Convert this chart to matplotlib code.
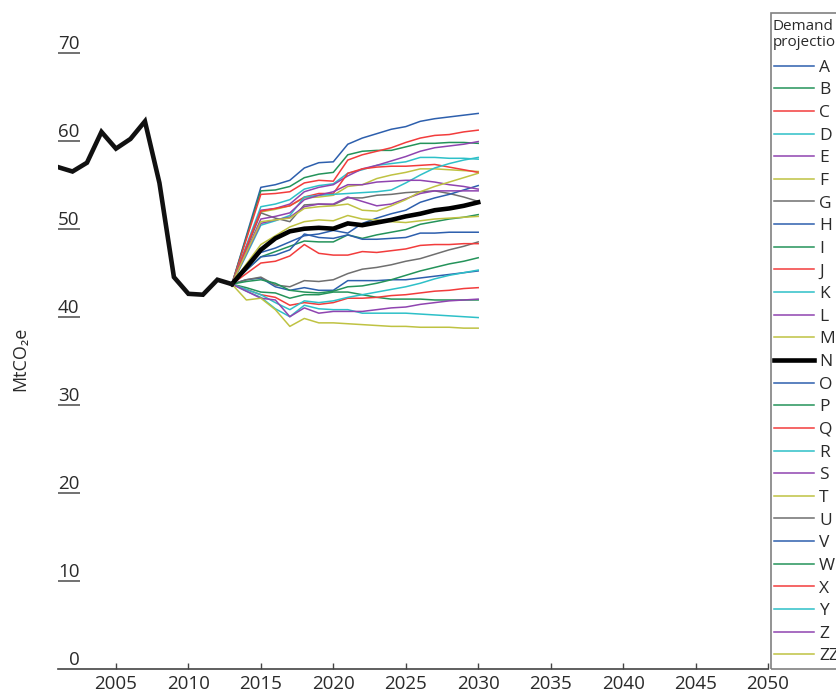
import matplotlib
matplotlib.use("Agg")
import matplotlib.pyplot as plt
import matplotlib.transforms as mtransforms
from matplotlib.patches import Rectangle

plt.rcParams["font.family"] = ["Open Sans", "DejaVu Sans"]

# Historical emissions (MtCO2e)
hist_years = list(range(2001, 2014))
hist_values = [57.0, 56.5, 57.5, 61.0, 59.1, 60.2, 62.2, 55.2, 44.5, 42.6, 42.5, 44.2, 43.7]

# Demand projections, 2013-2030
proj_years = list(range(2013, 2031))
A = [43.7, 49.2, 54.7, 55.0, 55.5, 56.9, 57.5, 57.6, 59.6, 60.3, 60.8, 61.3, 61.6, 62.2, 62.5, 62.7, 62.9, 63.1]
B = [43.7, 49.0, 54.3, 54.4, 54.8, 55.8, 56.2, 56.4, 58.4, 58.8, 58.9, 58.9, 59.3, 59.7, 59.7, 59.8, 59.8, 59.7]
C = [43.7, 48.8, 53.9, 54.0, 54.2, 55.2, 55.5, 55.4, 57.8, 58.4, 58.8, 59.2, 59.8, 60.3, 60.6, 60.7, 61.0, 61.2]
D = [43.7, 48.1, 52.5, 52.8, 53.3, 54.5, 54.9, 55.1, 56.3, 56.7, 57.2, 57.4, 57.6, 58.1, 58.1, 58.0, 58.0, 57.9]
E = [43.7, 47.9, 52.1, 52.3, 52.8, 54.2, 54.7, 55.0, 56.0, 56.8, 57.2, 57.7, 58.2, 58.8, 59.2, 59.4, 59.6, 59.9]
F = [43.7, 47.8, 51.9, 52.2, 52.6, 53.5, 53.6, 53.8, 54.8, 55.0, 55.7, 56.1, 56.4, 56.8, 56.8, 56.7, 56.6, 56.5]
G = [43.7, 47.7, 51.8, 51.2, 50.8, 52.7, 52.8, 52.7, 53.5, 53.5, 53.8, 53.9, 54.1, 54.2, 54.3, 54.0, 53.6, 53.1]
H = [43.7, 45.5, 47.3, 47.8, 48.5, 49.2, 49.4, 49.8, 49.5, 50.6, 51.2, 51.7, 52.1, 53.0, 53.5, 53.9, 54.4, 54.9]
I = [43.7, 45.3, 46.8, 47.4, 48.0, 48.6, 48.5, 48.5, 49.3, 48.9, 49.3, 49.6, 49.9, 50.5, 50.8, 51.1, 51.3, 51.6]
J = [43.7, 47.9, 52.0, 52.3, 52.6, 53.6, 54.0, 54.0, 56.3, 56.8, 57.0, 57.1, 57.1, 57.2, 57.3, 57.0, 56.7, 56.4]
K = [43.7, 47.0, 50.4, 50.9, 51.5, 53.6, 53.8, 53.9, 54.0, 54.1, 54.2, 54.4, 55.2, 56.1, 56.9, 57.4, 57.8, 58.1]
L = [43.7, 47.4, 51.1, 51.4, 51.8, 53.3, 53.8, 54.2, 55.0, 55.0, 55.3, 55.4, 55.5, 55.5, 55.3, 55.0, 54.8, 54.5]
M = [43.7, 46.0, 48.2, 49.2, 50.2, 50.8, 51.0, 50.9, 51.5, 51.1, 51.0, 50.8, 50.7, 50.9, 51.1, 51.2, 51.3, 51.4]
N = [43.7, 45.6, 47.6, 48.9, 49.7, 50.0, 50.1, 50.0, 50.6, 50.4, 50.7, 51.0, 51.4, 51.7, 52.1, 52.3, 52.6, 53.0]
O = [43.7, 44.2, 44.4, 43.4, 43.0, 43.3, 43.0, 43.0, 44.1, 44.1, 44.1, 44.2, 44.2, 44.4, 44.6, 44.8, 45.0, 45.2]
P = [43.7, 43.3, 42.8, 42.7, 42.1, 42.5, 42.5, 42.8, 42.8, 42.5, 42.2, 42.0, 42.0, 42.0, 41.9, 41.9, 41.9, 41.9]
Q = [43.7, 43.1, 42.5, 42.2, 41.3, 41.6, 41.4, 41.6, 42.1, 42.1, 42.2, 42.4, 42.5, 42.7, 42.9, 43.0, 43.2, 43.3]
R = [43.7, 43.1, 42.5, 41.6, 40.8, 41.8, 41.6, 41.8, 42.2, 42.5, 42.8, 43.1, 43.4, 43.8, 44.3, 44.7, 45.0, 45.3]
S = [43.7, 47.2, 50.6, 51.0, 51.3, 52.5, 52.8, 52.8, 53.6, 53.1, 52.6, 52.8, 53.4, 54.0, 54.3, 54.3, 54.3, 54.3]
T = [43.7, 47.3, 50.8, 51.0, 51.2, 52.3, 52.5, 52.6, 52.8, 52.1, 52.0, 52.6, 53.3, 54.2, 54.8, 55.3, 55.8, 56.3]
U = [43.7, 44.2, 44.5, 43.6, 43.4, 44.1, 44.0, 44.2, 44.9, 45.4, 45.6, 45.9, 46.3, 46.6, 47.1, 47.6, 48.0, 48.5]
V = [43.7, 45.3, 46.8, 47.0, 47.6, 49.4, 49.0, 48.9, 49.3, 48.8, 48.8, 48.9, 49.0, 49.5, 49.5, 49.6, 49.6, 49.6]
W = [43.7, 44.0, 44.2, 43.8, 43.0, 42.8, 42.7, 42.9, 43.4, 43.5, 43.8, 44.2, 44.7, 45.2, 45.6, 46.0, 46.3, 46.7]
X = [43.7, 44.9, 46.1, 46.3, 46.9, 48.2, 47.2, 47.0, 47.0, 47.4, 47.3, 47.5, 47.7, 48.1, 48.2, 48.2, 48.3, 48.3]
Y = [43.7, 42.9, 42.2, 40.9, 40.0, 41.3, 40.9, 40.8, 40.8, 40.4, 40.4, 40.4, 40.4, 40.3, 40.2, 40.1, 40.0, 39.9]
Z = [43.7, 42.9, 42.1, 41.9, 40.0, 41.0, 40.4, 40.6, 40.6, 40.6, 40.8, 41.0, 41.1, 41.4, 41.6, 41.8, 41.9, 42.0]
ZZ = [43.7, 41.9, 42.1, 40.8, 38.9, 39.8, 39.3, 39.3, 39.2, 39.1, 39.0, 38.9, 38.9, 38.8, 38.8, 38.8, 38.7, 38.7]

series_names = ["A", "B", "C", "D", "E", "F", "G", "H", "I", "J", "K", "L", "M", "N",
                "O", "P", "Q", "R", "S", "T", "U", "V", "W", "X", "Y", "Z", "ZZ"]
series_values = [A, B, C, D, E, F, G, H, I, J, K, L, M, N,
                 O, P, Q, R, S, T, U, V, W, X, Y, Z, ZZ]
central_case = "N"

palette = ["#2d5fad", "#24935a", "#f23c3c", "#2ec0c8", "#8f44b0", "#bfc242", "#6f6f6f"]

y_ticks = [0, 10, 20, 30, 40, 50, 60, 70]
x_ticks = list(range(2005, 2051, 5))

W_PX, H_PX = 836, 693
fig = plt.figure(figsize=(W_PX / 100, H_PX / 100), dpi=100)
ax = fig.add_axes([58 / W_PX, (H_PX - 668.7) / H_PX, 710 / W_PX, 660 / H_PX])
ax.set_xlim(2001, 2050)
ax.set_ylim(0, 75)

# projection lines
for i, (name, vals) in enumerate(zip(series_names, series_values)):
    if name == central_case:
        ax.plot(proj_years, vals, color="black", lw=3.3, solid_joinstyle="miter",
                label=name, zorder=5)
    else:
        ax.plot(proj_years, vals, color=palette[i % len(palette)], lw=1.1,
                label=name, zorder=3)

# historical line
ax.plot(hist_years, hist_values, color="#111111", lw=3.3, solid_joinstyle="miter", zorder=6)

# axes styling
for side in ("top", "right", "left"):
    ax.spines[side].set_visible(False)
ax.spines["bottom"].set_color("#444444")
ax.spines["bottom"].set_linewidth(1.2)
ax.set_xticks(x_ticks)
ax.set_xticklabels([str(t) for t in x_ticks])
ax.tick_params(axis="x", direction="in", length=4.5, width=1.0, color="#444444",
               labelsize=13.5, labelcolor="#2a2a2a", pad=4.5)
ax.set_yticks([])

# y tick labels sit on short underline marks
blend = mtransforms.blended_transform_factory(ax.transAxes, ax.transData)
mark_w = 22 / 710
for v in y_ticks:
    if v > 0:
        ax.plot([0, mark_w], [v, v], transform=blend, color="#666666", lw=1.3,
                clip_on=False, solid_capstyle="butt")
    ax.annotate(str(v), xy=(mark_w, v), xycoords=blend, xytext=(-0.5, 2.6),
                textcoords="offset points", ha="right", va="baseline",
                fontsize=13.5, color="#2a2a2a", annotation_clip=False)

fig.text(20 / W_PX, 1 - 359 / H_PX, "MtCO\u2082e", rotation=90, ha="center", va="center",
         fontsize=13, color="#2a2a2a")

# legend panel: box, heading, entries
fig.add_artist(Rectangle((771 / W_PX, (H_PX - 669) / H_PX), 80 / W_PX, 656 / H_PX,
                         transform=fig.transFigure, facecolor="none",
                         edgecolor="#808080", lw=1.2, clip_on=False, zorder=1))
fig.text(773 / W_PX, 1 - 19.5 / H_PX, "Demand\nprojection", ha="left", va="top",
         fontsize=11, linespacing=1.06, color="#2a2a2a", zorder=3)
leg = ax.legend(loc="upper left", bbox_to_anchor=(774 / W_PX, 1 - 59.5 / H_PX),
                bbox_transform=fig.transFigure,
                fontsize=12.5, handlelength=2.3, handletextpad=0.3,
                labelspacing=0.374, borderpad=0, borderaxespad=0, frameon=False)
for t in leg.get_texts():
    t.set_color("#2a2a2a")

fig.savefig("out.png", dpi=100)
